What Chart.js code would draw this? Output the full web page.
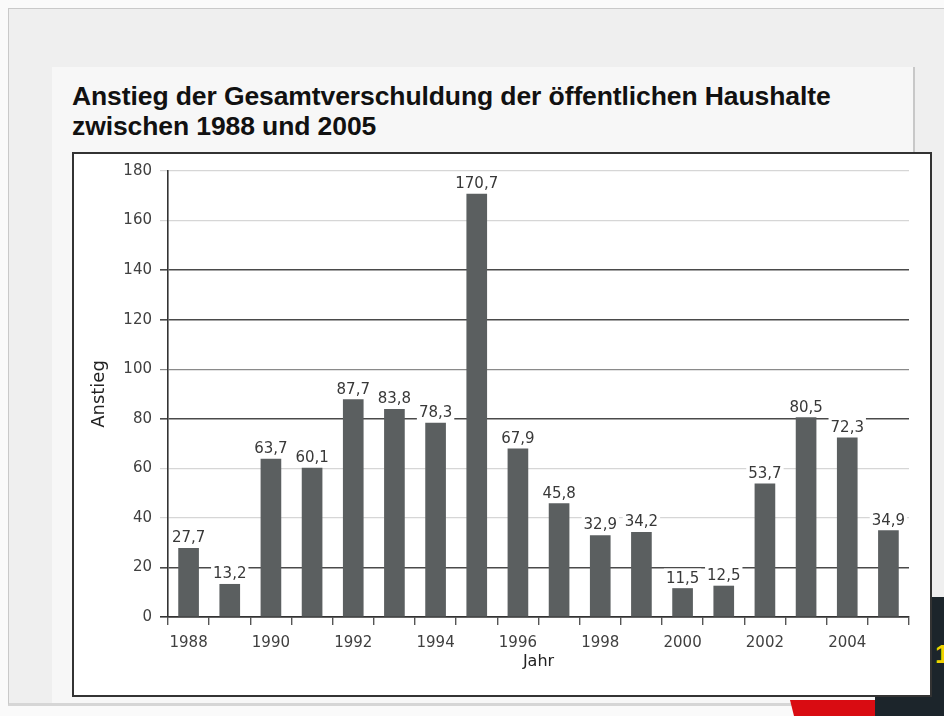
<!DOCTYPE html>
<html lang="de">
<head>
<meta charset="utf-8">
<script src="https://cdn.jsdelivr.net/npm/chart.js@4.4.1/dist/chart.umd.min.js"></script>
<style>
  html,body{margin:0;padding:0;}
  body{width:944px;height:716px;overflow:hidden;position:relative;background:#fafafa;font-family:"Liberation Sans",Arial,sans-serif;}
  #frame{position:absolute;left:8px;top:8px;width:950px;height:694px;background:#efefef;border-top:1px solid #c9c9c9;border-left:1px solid #c9c9c9;border-bottom:3px solid #d6d6d6;}
  #card{position:absolute;left:52px;top:67px;width:861px;height:636px;background:#f7f7f7;border-right:2px solid #c8c8c8;}
  #title{position:absolute;left:72px;top:81px;font-weight:bold;font-size:26.5px;line-height:30px;color:#111;letter-spacing:-0.1px;}
  #dark{position:absolute;left:875px;top:597px;width:69px;height:119px;background:#1c252b;overflow:hidden;}
  #dark span{position:absolute;left:60px;top:42px;color:#f2d200;font-weight:bold;font-size:26px;}
  #red{position:absolute;left:790px;top:700px;width:85px;height:16px;background:#d90c12;clip-path:polygon(0 0,100% 0,100% 100%,4px 100%);}
  #box{position:absolute;left:72px;top:152px;width:856px;height:541px;background:#fff;border:2px solid #333;}
  #box canvas{display:block;}
</style>
</head>
<body>
<div id="frame"></div>
<div id="card"></div>
<div id="red"></div>
<div id="dark"><span>1</span></div>
<div id="title">Anstieg der Gesamtverschuldung der öffentlichen Haushalte<br>zwischen 1988 und 2005</div>
<div id="box"><canvas id="c" width="856" height="541"></canvas></div>
<script>
const years = ["1988","1989","1990","1991","1992","1993","1994","1995","1996","1997","1998","1999","2000","2001","2002","2003","2004","2005"];
const increase = [27.7, 13.2, 63.7, 60.1, 87.7, 83.8, 78.3, 170.7, 67.9, 45.8, 32.9, 34.2, 11.5, 12.5, 53.7, 80.5, 72.3, 34.9];
const yTicks = [0, 20, 40, 60, 80, 100, 120, 140, 160, 180];
const xTickLabels = ["1988","","1990","","1992","","1994","","1996","","1998","","2000","","2002","","2004",""];
const yTitle = "Anstieg";
const xTitle = "Jahr";

const darkLines = {20:1, 80:1, 120:1, 140:1};
function gridColor(ctx){
  const v = ctx.tick ? ctx.tick.value : 0;
  if (v === 0) return '#333';
  if (darkLines[v]) return '#4a4a4a';
  if (v === 100) return '#8a8a8a';
  return '#d6d6d6';
}
function gridWidth(ctx){
  const v = ctx.tick ? ctx.tick.value : 0;
  if (darkLines[v] || v === 0) return 1.6;
  return 1.2;
}
const tickFont = {family:"'DejaVu Sans', sans-serif", size:15};

const valueLabels = {
  id:'valueLabels',
  afterDatasetsDraw(chart){
    const {ctx} = chart;
    const meta = chart.getDatasetMeta(0);
    ctx.save();
    ctx.font = "15px 'DejaVu Sans', sans-serif";
    ctx.textAlign = 'center';
    ctx.textBaseline = 'alphabetic';
    meta.data.forEach((bar, i) => {
      const txt = increase[i].toFixed(1).replace('.', ',');
      const w = ctx.measureText(txt).width;
      const by = bar.y - 6;
      ctx.fillStyle = '#fff';
      ctx.fillRect(bar.x - w/2 - 2, by - 14, w + 4, 17);
      ctx.fillStyle = '#383838';
      ctx.fillText(txt, bar.x, by);
    });
    ctx.restore();
  }
};

new Chart(document.getElementById('c'), {
  type:'bar',
  data:{
    labels: years,
    datasets:[{
      data: increase,
      backgroundColor:'#5b5f60',
      borderWidth:0,
      barThickness:20
    }]
  },
  options:{
    responsive:false,
    animation:false,
    events:[],
    layout:{padding:{left:0, top:14, right:21, bottom:0}},
    plugins:{legend:{display:false}, tooltip:{enabled:false}, title:{display:false}},
    scales:{
      y:{
        min:0, max:180,
        afterBuildTicks(s){ s.ticks = yTicks.map(v => ({value:v})); },
        afterFit(s){ s.width = 94; },
        ticks:{font:tickFont, color:'#404040', padding:8},
        grid:{color:gridColor, lineWidth:gridWidth, tickLength:8},
        border:{display:true, color:'#333', width:1.6},
        title:{display:true, text:yTitle, font:{family:"'DejaVu Sans', sans-serif", size:18}, color:'#222', padding:{top:15,bottom:0}}
      },
      x:{
        afterFit(s){ s.height = 78; },
        ticks:{font:tickFont, color:'#404040', autoSkip:false, maxRotation:0, padding:9,
          callback:(v, i) => xTickLabels[i]},
        grid:{display:true, drawOnChartArea:false, offset:true, tickLength:8, color:'#555', lineWidth:1.4},
        border:{display:true, color:'#333', width:1.6},
        title:{display:true, text:xTitle, font:{family:"'DejaVu Sans', sans-serif", size:16}, color:'#222', padding:{top:0,bottom:24}}
      }
    }
  },
  plugins:[valueLabels]
});
</script>
</body>
</html>
